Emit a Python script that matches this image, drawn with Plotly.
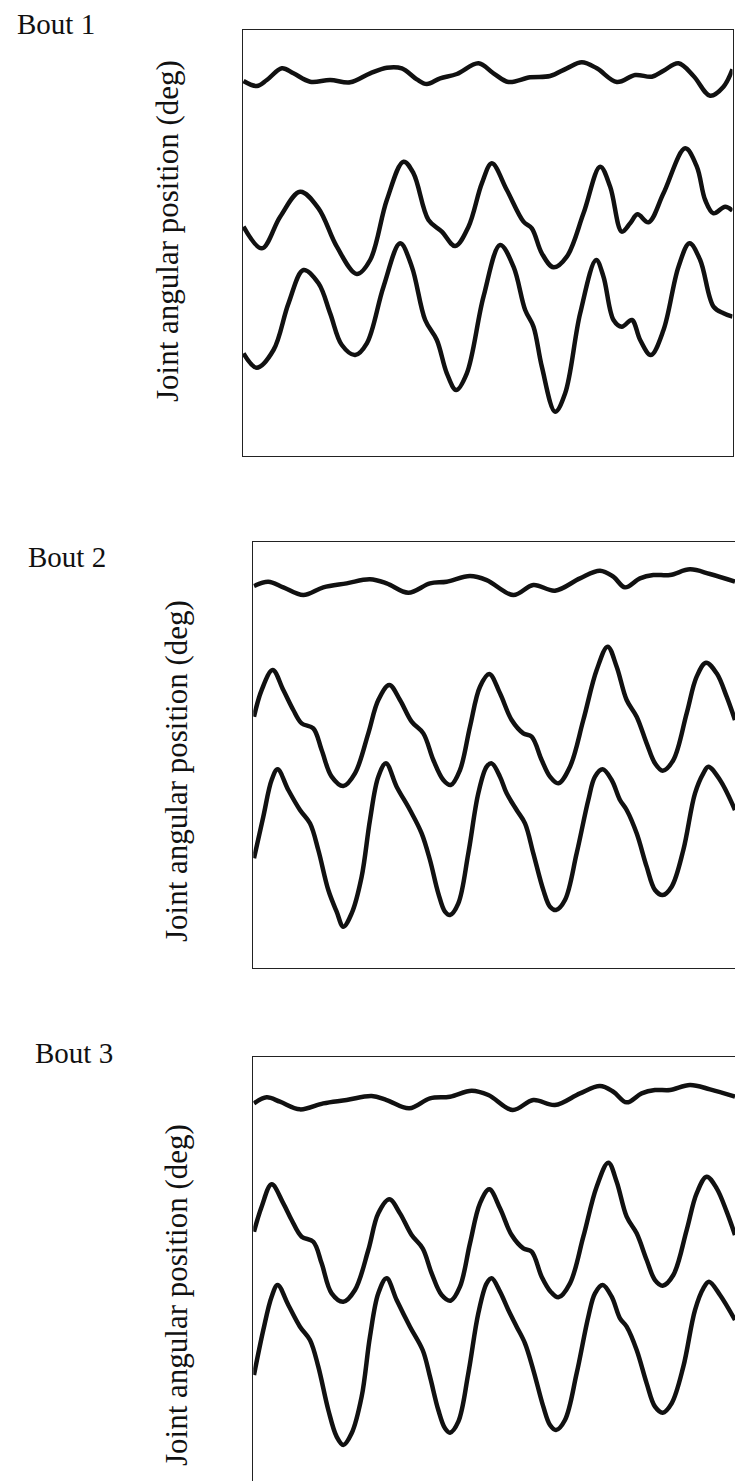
import plotly.graph_objects as go

# ---- Bout 1: joint angle traces (time in arbitrary units, angle in deg) ----
b1_t_top = [4.0, 8.0, 11.0, 15.5, 19.0, 24.0, 30.0, 36.0, 42.0, 47.0, 51.5, 56.0, 59.0, 63.0, 68.0, 74.5,
            79.0, 83.5, 90.0, 96.0, 101.0, 105.5, 110.0, 116.0, 121.5, 126.5, 130.0, 134.5, 139.0, 144.0,
            148.0, 150.7]
b1_a_top = [107.7, 106.2, 108.0, 111.5, 110.0, 107.5, 108.0, 107.3, 110.0, 111.7, 111.5, 108.2, 106.8,
            108.5, 109.8, 113.0, 110.0, 107.4, 108.8, 109.2, 111.5, 113.3, 111.5, 107.4, 109.5, 109.0,
            110.8, 113.0, 109.2, 103.3, 106.0, 111.2]

b1_t_mid = [4.0, 9.5, 15.0, 21.0, 26.5, 32.0, 38.0, 42.0, 47.0, 52.0, 55.0, 59.5, 63.5, 67.5, 71.5, 75.5,
            78.5, 83.0, 88.0, 90.5, 93.5, 97.0, 101.0, 106.0, 111.0, 114.0, 117.5, 120.0, 122.2, 125.5,
            130.0, 136.5, 140.0, 142.5, 145.0, 148.5, 150.7]
b1_a_mid = [64.0, 57.5, 67.0, 74.5, 69.5, 58.0, 49.8, 54.0, 72.0, 83.5, 80.0, 66.0, 62.5, 58.2, 64.0, 77.0,
            83.0, 75.0, 65.5, 63.5, 56.0, 51.8, 55.0, 68.0, 82.0, 76.0, 62.5, 65.0, 67.7, 65.3, 74.0, 87.5,
            82.0, 72.0, 68.0, 70.0, 68.8]

b1_t_low = [4.0, 8.0, 13.0, 17.5, 22.0, 26.5, 30.0, 33.5, 37.5, 41.0, 46.0, 51.0, 54.5, 58.5, 62.0, 65.0,
            67.8, 71.0, 76.0, 81.0, 85.0, 88.5, 91.0, 93.5, 97.5, 100.5, 105.0, 109.8, 112.0, 115.0, 117.5,
            120.5, 123.0, 126.2, 130.0, 134.5, 137.8, 141.0, 145.0, 148.0, 150.7]
b1_a_low = [26.0, 21.7, 27.0, 41.0, 51.0, 47.0, 38.0, 28.5, 25.5, 29.0, 46.0, 59.0, 52.0, 36.0, 30.0, 20.0,
            15.0, 20.0, 43.0, 58.5, 52.0, 39.0, 34.0, 22.0, 8.5, 14.0, 38.0, 54.0, 49.0, 36.0, 34.0, 36.0,
            30.0, 25.5, 33.0, 52.0, 59.0, 54.0, 40.0, 38.0, 37.0]

# ---- Bout 2 ----
b2_t_top = [7.2, 11.5, 16.0, 22.0, 28.0, 35.0, 42.0, 47.0, 53.5, 60.0, 65.0, 72.0, 77.0, 85.0, 91.0, 97.5,
            105.0, 111.0, 115.0, 118.5, 123.0, 127.0, 132.0, 138.0, 144.0, 151.5]
b2_a_top = [100.2, 101.5, 99.8, 97.5, 99.8, 101.0, 102.2, 101.0, 98.2, 101.0, 101.5, 103.2, 102.0, 97.5,
            100.5, 98.8, 102.5, 104.8, 103.0, 99.8, 102.5, 103.5, 103.5, 105.2, 103.8, 101.5]

b2_t_mid = [7.2, 9.5, 12.8, 16.0, 19.0, 21.5, 25.0, 27.5, 30.5, 34.0, 37.5, 41.5, 44.5, 47.8, 51.0, 54.5,
            58.0, 61.0, 64.0, 66.2, 69.0, 72.0, 75.0, 77.8, 81.0, 84.5, 88.0, 90.5, 93.5, 96.0, 98.5, 102.0,
            106.0, 110.0, 113.3, 116.0, 119.0, 122.0, 125.0, 127.5, 129.8, 133.0, 137.0, 140.0, 142.8,
            146.0, 149.0, 151.5]
b2_a_mid = [61.0, 69.0, 75.0, 69.0, 63.0, 59.0, 57.5, 51.0, 43.0, 40.2, 44.0, 56.0, 66.0, 70.5, 66.0, 59.5,
            56.0, 48.0, 42.0, 40.5, 45.0, 58.0, 70.0, 73.8, 68.0, 60.0, 56.0, 55.0, 48.0, 43.0, 41.0, 46.0,
            60.0, 75.0, 82.0, 76.0, 66.0, 61.0, 53.0, 47.0, 44.8, 48.0, 62.0, 73.0, 77.2, 74.0, 67.0, 60.0]

b2_t_low = [7.2, 10.0, 12.5, 14.3, 17.5, 21.0, 24.0, 26.5, 29.5, 32.0, 34.0, 36.5, 39.5, 42.0, 44.5, 46.8,
            50.0, 54.0, 57.5, 60.0, 62.5, 64.5, 66.0, 68.5, 71.5, 74.5, 77.0, 78.5, 81.0, 83.0, 86.0, 88.5,
            91.0, 94.0, 96.0, 97.8, 100.5, 104.0, 107.5, 109.5, 111.8, 114.5, 117.0, 119.0, 122.0, 125.0,
            127.5, 129.8, 132.5, 136.0, 139.5, 142.0, 143.5, 147.0, 151.5]
b2_a_low = [18.5, 31.0, 42.0, 45.2, 39.0, 33.0, 29.0, 21.0, 9.0, 2.5, -2.0, 2.0, 13.0, 30.0, 43.0, 47.0,
            40.0, 33.0, 26.0, 18.0, 8.0, 2.5, 1.5, 5.0, 20.0, 38.0, 46.0, 47.0, 43.0, 38.0, 33.0, 29.0,
            20.0, 9.0, 4.0, 3.0, 6.0, 20.0, 36.0, 43.0, 45.2, 42.0, 36.0, 33.0, 26.0, 16.0, 9.0, 7.5, 10.0,
            21.0, 38.0, 44.0, 46.0, 42.0, 33.0]

# ---- Bout 3 ----
b3_t_top = [7.2, 11.0, 15.0, 21.0, 28.0, 35.0, 42.5, 47.0, 53.8, 60.0, 66.0, 72.5, 77.5, 84.8, 91.0, 97.5,
            105.0, 111.0, 115.0, 119.0, 123.5, 127.5, 132.0, 138.0, 144.0, 151.5]
b3_a_top = [92.0, 93.8, 92.5, 90.2, 92.0, 93.0, 94.2, 93.0, 90.5, 93.5, 94.0, 95.8, 94.5, 90.0, 93.0, 91.5,
            95.0, 97.2, 95.5, 92.3, 95.0, 96.0, 96.0, 97.5, 96.2, 94.0]

b3_t_mid = [7.2, 9.5, 12.5, 16.0, 18.5, 21.5, 25.0, 27.5, 30.5, 34.0, 37.5, 41.5, 44.5, 47.8, 51.0, 54.5,
            57.8, 60.5, 63.5, 66.2, 69.0, 72.0, 75.0, 77.8, 81.0, 84.5, 88.0, 90.5, 93.5, 96.2, 98.5, 102.0,
            106.0, 110.0, 113.5, 116.0, 119.0, 122.0, 125.0, 127.5, 129.8, 133.0, 137.0, 140.0, 143.0,
            146.0, 149.0, 151.5]
b3_a_mid = [53.5, 61.0, 67.7, 62.0, 57.0, 52.0, 50.5, 44.0, 35.0, 32.5, 36.0, 48.0, 59.0, 63.2, 59.0, 52.5,
            48.5, 41.0, 34.5, 32.8, 37.0, 50.0, 62.0, 66.2, 60.5, 52.5, 48.5, 47.5, 40.0, 35.5, 33.8, 38.0,
            52.0, 67.0, 74.2, 68.5, 58.0, 53.0, 45.0, 39.0, 37.3, 40.5, 54.0, 65.0, 70.0, 66.5, 59.5, 52.5]

b3_t_low = [7.2, 10.0, 12.5, 14.3, 17.5, 21.0, 24.0, 26.5, 29.5, 32.0, 34.0, 36.5, 39.5, 42.0, 44.5, 47.0,
            50.0, 54.0, 57.8, 60.0, 62.5, 64.5, 66.0, 68.5, 71.5, 74.5, 77.0, 78.5, 81.0, 83.5, 86.0, 88.5,
            91.0, 94.0, 96.0, 97.8, 100.5, 104.0, 107.5, 109.5, 111.8, 114.5, 117.0, 119.0, 122.0, 125.0,
            127.5, 129.8, 132.5, 136.0, 139.5, 142.0, 143.7, 147.0, 151.5]
b3_a_low = [10.5, 24.0, 34.0, 37.5, 31.5, 25.0, 21.0, 13.0, 0.0, -8.0, -10.5, -7.0, 4.0, 22.0, 35.0, 39.5,
            33.0, 25.0, 18.0, 10.0, 0.0, -5.5, -6.8, -3.5, 11.0, 29.0, 38.0, 39.5, 35.5, 30.0, 25.0, 20.0,
            12.0, 1.0, -4.5, -6.0, -3.0, 11.0, 28.0, 35.0, 37.5, 34.0, 27.5, 25.0, 18.0, 8.0, 1.0, -0.8,
            2.0, 13.0, 30.0, 36.5, 38.5, 34.5, 27.0]

bout_labels = ["Bout 1", "Bout 2", "Bout 3"]
y_title = "Joint angular position (deg)"

W, H = 735, 1481
INK = "#111111"
FONT = "Liberation Serif, Times New Roman, serif"

fig = go.Figure()

panels = [
    ("x", "y", [(b1_t_top, b1_a_top), (b1_t_mid, b1_a_mid), (b1_t_low, b1_a_low)]),
    ("x2", "y2", [(b2_t_top, b2_a_top), (b2_t_mid, b2_a_mid), (b2_t_low, b2_a_low)]),
    ("x3", "y3", [(b3_t_top, b3_a_top), (b3_t_mid, b3_a_mid), (b3_t_low, b3_a_low)]),
]
for xa, ya, traces in panels:
    for t, a in traces:
        fig.add_trace(go.Scatter(x=t, y=a, xaxis=xa, yaxis=ya, mode="lines",
                                 line=dict(color=INK, width=4.5, shape="spline", smoothing=1.0),
                                 hoverinfo="skip", showlegend=False))


def px_x(p):
    return p / W


def px_y(p):
    return 1 - p / H


hidden = dict(showgrid=False, zeroline=False, showticklabels=False, ticks="",
              linecolor="#222222", linewidth=1.2)

fig.update_layout(
    width=W, height=H,
    margin=dict(l=0, r=0, t=0, b=0),
    paper_bgcolor="white", plot_bgcolor="white",
    showlegend=False,
    # Bout 1 box: closed frame
    xaxis=dict(domain=[px_x(242.5), px_x(732.5)], range=[3.7, 150.7], showline=True, mirror=True,
               anchor="y", **hidden),
    yaxis=dict(domain=[px_y(456), px_y(30)], range=[-4.8, 123.0], showline=True, mirror=True,
               anchor="x", **hidden),
    # Bout 2 box: runs off the right edge
    xaxis2=dict(domain=[px_x(253.3), 1.0], range=[7.0, 151.5], showline=True, mirror=True,
                anchor="y2", **hidden),
    yaxis2=dict(domain=[px_y(968), px_y(541.7)], range=[-14.4, 113.5], showline=True, mirror=False,
                anchor="x2", **hidden),
    # Bout 3 box: runs off the right and bottom edges
    xaxis3=dict(domain=[px_x(253.3), 1.0], range=[7.0, 151.5], showline=True, side="top", mirror=False,
                anchor="y3", **hidden),
    yaxis3=dict(domain=[0.0, px_y(1056.7)], range=[-21.3, 106.0], showline=True, mirror=False,
                anchor="x3", **hidden),
)

label_pos = [(97, 24), (108, 557), (115, 1053)]
title_pos = [(168, 231), (176, 771), (176, 1295)]
for txt, (bx, by), (tx, ty) in zip(bout_labels, label_pos, title_pos):
    fig.add_annotation(text=txt, x=px_x(bx), y=px_y(by), xref="paper", yref="paper",
                       xanchor="right", yanchor="middle", showarrow=False,
                       font=dict(family=FONT, size=29, color=INK))
    fig.add_annotation(text=y_title, x=px_x(tx), y=px_y(ty), xref="paper", yref="paper",
                       xanchor="center", yanchor="middle", textangle=-90, showarrow=False,
                       font=dict(family=FONT, size=31, color=INK))

fig.write_html("out.html")
